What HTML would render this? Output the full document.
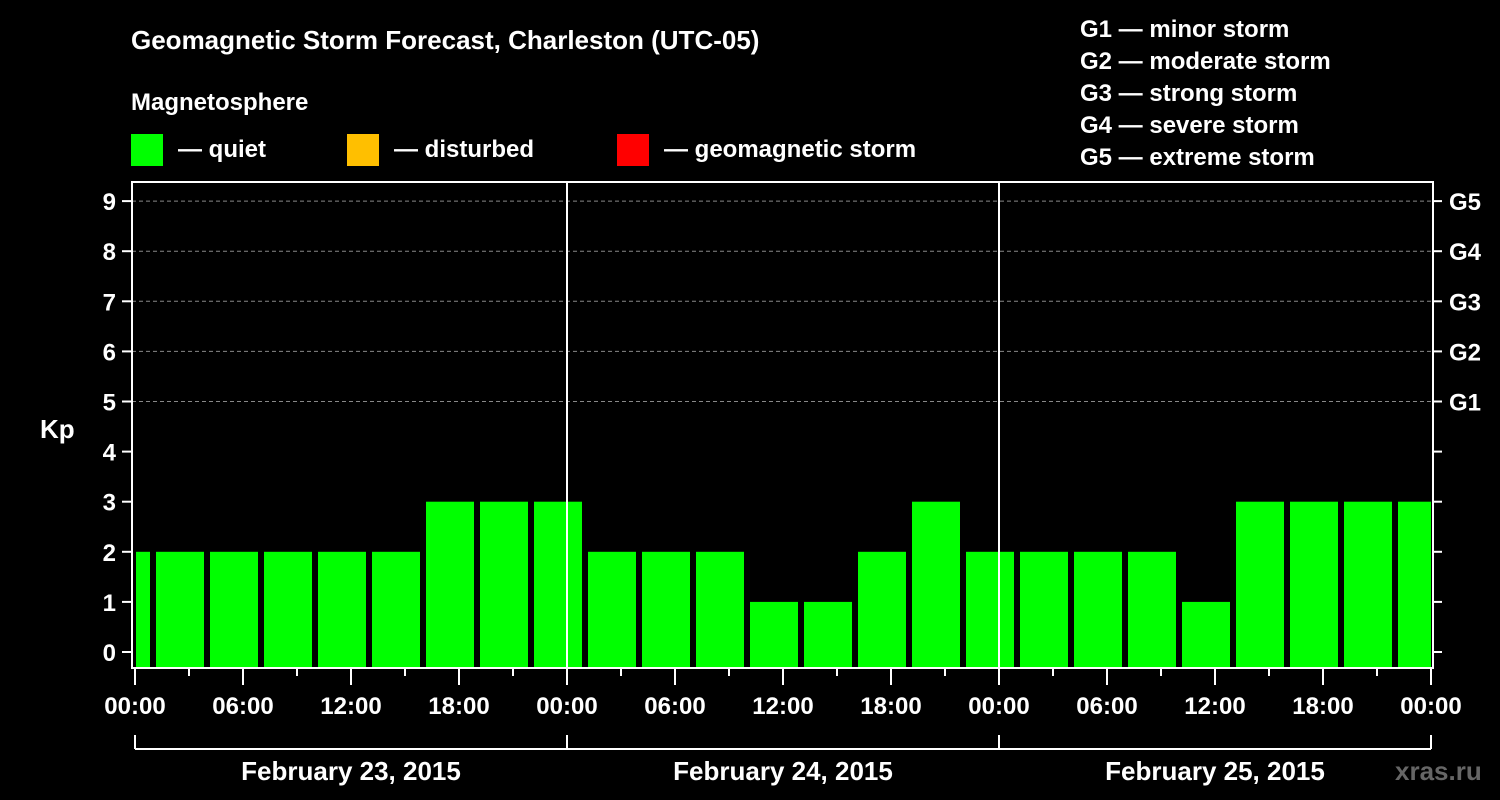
<!DOCTYPE html>
<html><head><meta charset="utf-8"><style>
body{margin:0;background:#000;}
svg{display:block;font-family:"Liberation Sans",sans-serif;font-weight:bold;}
</style></head><body>
<svg id="chart" width="1500" height="800" viewBox="0 0 1500 800">
<rect width="1500" height="800" fill="#000"/>
<text x="131" y="49" fill="#fff" font-size="26">Geomagnetic Storm Forecast, Charleston (UTC-05)</text>
<text x="131" y="110" fill="#fff" font-size="24">Magnetosphere</text>
<g><rect x="131" y="134" width="32" height="32" fill="#00ff00"/><text x="178" y="157" fill="#fff" font-size="24">— quiet</text></g>
<g><rect x="347" y="134" width="32" height="32" fill="#ffbf00"/><text x="394" y="157" fill="#fff" font-size="24">— disturbed</text></g>
<g><rect x="617" y="134" width="32" height="32" fill="#ff0000"/><text x="664" y="157" fill="#fff" font-size="24">— geomagnetic storm</text></g>
<g fill="#fff" font-size="24">
<text x="1080" y="37">G1 — minor storm</text>
<text x="1080" y="69">G2 — moderate storm</text>
<text x="1080" y="101">G3 — strong storm</text>
<text x="1080" y="133">G4 — severe storm</text>
<text x="1080" y="165">G5 — extreme storm</text>
</g>
<text x="40" y="438" fill="#fff" font-size="26">Kp</text>
<text x="1395" y="780" fill="#666" font-size="26">xras.ru</text>
<g id="plot"></g>
</svg>
<script>
const kpValues=[2,2,2,2,2,2,3,3,3,2,2,2,1,1,2,3,2,2,2,2,1,3,3,3,3];
const startHour=-2; // first block begins 22:00 previous day
const xTickLabels=["00:00","06:00","12:00","18:00","00:00","06:00","12:00","18:00","00:00","06:00","12:00","18:00","00:00"];
const dayLabels=["February 23, 2015","February 24, 2015","February 25, 2015"];
const yTicks=[0,1,2,3,4,5,6,7,8,9];
const gLabels=[[5,"G1"],[6,"G2"],[7,"G3"],[8,"G4"],[9,"G5"]];
const X0=135,HPX=18,L=132,R=1433,T=182,B=668;
const x=h=>X0+h*HPX, y=v=>652-v*50.1;
const ns="http://www.w3.org/2000/svg",g=document.getElementById('plot');
function mk(t,a){const e=document.createElementNS(ns,t);for(const k in a)e.setAttribute(k,a[k]);g.appendChild(e);return e;}
// grid
gLabels.forEach(([v])=>{const e=mk('line',{x1:L,x2:R,y1:y(v),y2:y(v),stroke:'#888','stroke-dasharray':'4,3','stroke-width':1});

});
// bars
kpValues.forEach((v,i)=>{const h0=startHour+i*3;let x1=Math.max(x(h0)+3,x(0)+1),x2=Math.min(x(h0+3)-3,x(72));
const col=v>=5?'#ff0000':(v>=4?'#ffbf00':'#00ff00');
const e=mk('rect',{x:x1,y:y(v),width:x2-x1,height:B-1-y(v),fill:col});

});
// day separators
[24,48].forEach(h=>{const e=mk('line',{x1:x(h),x2:x(h),y1:T,y2:B,stroke:'#fff','stroke-width':2});

});
// frame
const f=mk('rect',{x:L,y:T,width:R-L,height:B-T,fill:'none',stroke:'#fff','stroke-width':2});


// y ticks
yTicks.forEach(v=>{mk('line',{x1:122,x2:L,y1:y(v),y2:y(v),stroke:'#fff','stroke-width':2});
mk('line',{x1:R,x2:1442,y1:y(v),y2:y(v),stroke:'#fff','stroke-width':2});
const t=mk('text',{x:116,y:y(v)+9,fill:'#fff','font-size':24,'text-anchor':'end'});t.textContent=v;

});
gLabels.forEach(([v,s])=>{const t=mk('text',{x:1449,y:y(v)+9,fill:'#fff','font-size':24});t.textContent=s;

});
// x ticks
for(let h=0;h<=72;h+=3){mk('line',{x1:x(h),x2:x(h),y1:B,y2:h%6==0?B+17:B+8,stroke:'#fff','stroke-width':2});}
xTickLabels.forEach((s,i)=>{const t=mk('text',{x:x(i*6),y:714,fill:'#fff','font-size':24,'text-anchor':'middle'});t.textContent=s;

});
// day bracket
mk('line',{x1:x(0),x2:x(72),y1:749,y2:749,stroke:'#fff','stroke-width':2});
[0,24,48,72].forEach(h=>mk('line',{x1:x(h),x2:x(h),y1:735,y2:749,stroke:'#fff','stroke-width':2}));
dayLabels.forEach((s,i)=>{const t=mk('text',{x:x(i*24+12),y:780,fill:'#fff','font-size':26,'text-anchor':'middle'});t.textContent=s;

});
</script>
</body></html>
